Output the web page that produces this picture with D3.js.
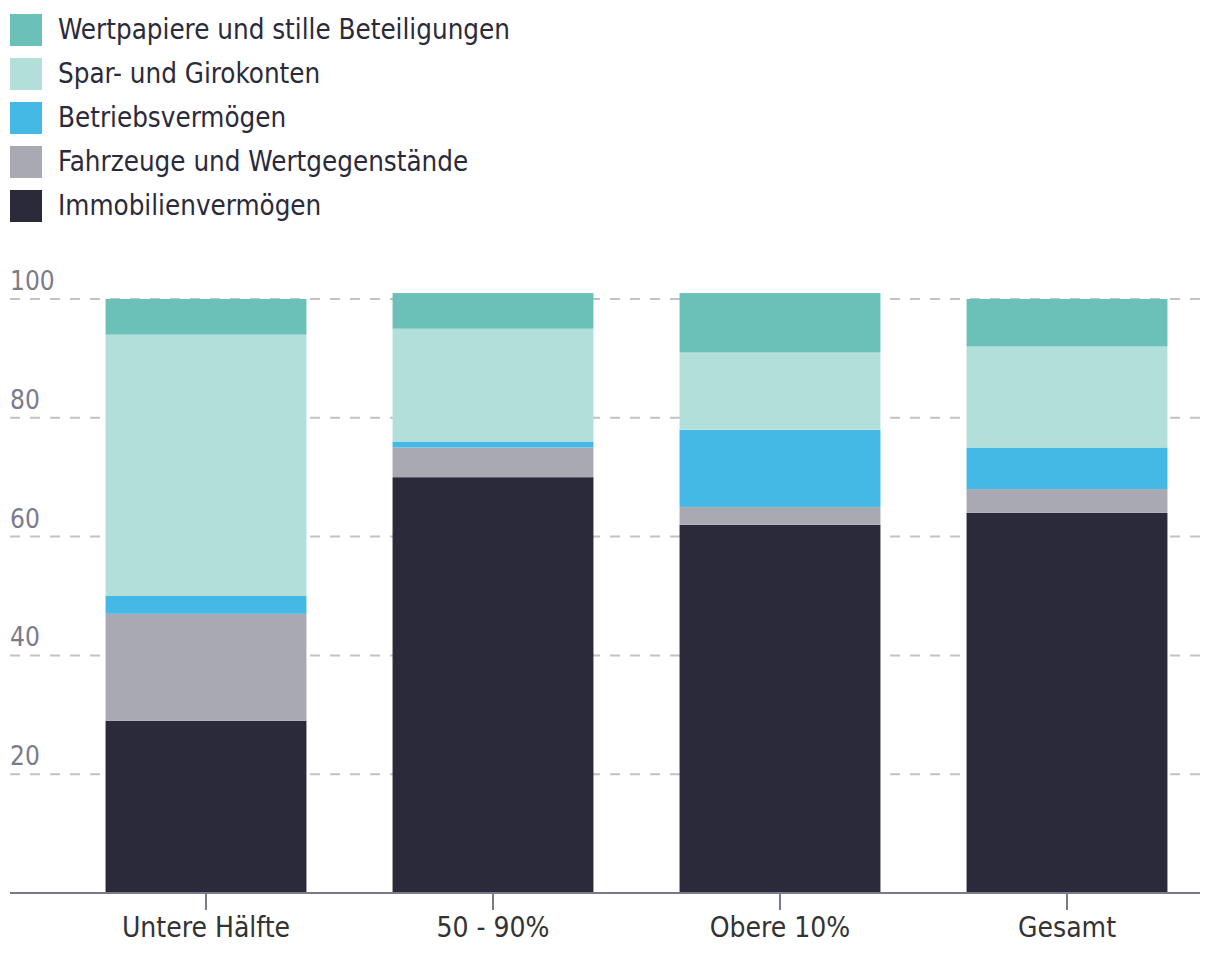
<!DOCTYPE html>
<html>
<head>
<meta charset="utf-8">
<script src="https://cdn.jsdelivr.net/npm/d3@7"></script>
<style>
  html, body { margin: 0; padding: 0; background: #fff; }
  svg text { font-family: "DejaVu Sans Condensed", "Roboto", sans-serif; }
</style>
</head>
<body>
<svg id="chart" width="1220" height="970"></svg>
<script>
// groups on the x axis
const groups = ['Untere Hälfte', '50 - 90%', 'Obere 10%', 'Gesamt'];

// stack order, bottom to top
const seriesNames = [
  'Immobilienvermögen',
  'Fahrzeuge und Wertgegenstände',
  'Betriebsvermögen',
  'Spar- und Girokonten',
  'Wertpapiere und stille Beteiligungen'
];
const seriesColors = ['#2b2a3a', '#a9a9b3', '#44b9e5', '#b3dfda', '#6bc1b7'];

// shares in percent, one value per group
const immobilien  = [29, 70, 62, 64];
const fahrzeuge   = [18, 5, 3, 4];
const betrieb     = [3, 1, 13, 7];
const sparGiro    = [44, 19, 13, 17];
const wertpapiere = [6, 6, 10, 8];

const yTicks = [20, 40, 60, 80, 100];

const svg = d3.select('#chart');

const rows = groups.map((g, i) => ({
  group: g,
  [seriesNames[0]]: immobilien[i],
  [seriesNames[1]]: fahrzeuge[i],
  [seriesNames[2]]: betrieb[i],
  [seriesNames[3]]: sparGiro[i],
  [seriesNames[4]]: wertpapiere[i]
}));
const stacked = d3.stack().keys(seriesNames)(rows);

const x = d3.scaleBand()
  .domain(groups)
  .range([62.5, 1210.5])
  .paddingInner(0.3)
  .paddingOuter(0.15);

const y = d3.scaleLinear().domain([0, 100]).range([893, 299]);

// grid lines + y labels
const grid = svg.append('g').attr('class', 'grid');
grid.selectAll('line')
  .data(yTicks)
  .join('line')
  .attr('x1', 10).attr('x2', 1200)
  .attr('y1', d => y(d)).attr('y2', d => y(d))
  .attr('stroke', '#c2c1c8')
  .attr('stroke-width', 2)
  .attr('stroke-dasharray', '10 10');
grid.selectAll('text')
  .data(yTicks)
  .join('text')
  .attr('x', 10)
  .attr('y', d => y(d) - 9)
  .attr('fill', '#7c7a8a')
  .attr('font-size', 26)
  .text(d => d);

// bars
svg.append('g').attr('class', 'bars')
  .selectAll('g')
  .data(stacked)
  .join('g')
  .attr('fill', (d, i) => seriesColors[i])
  .selectAll('rect')
  .data(d => d)
  .join('rect')
  .attr('x', d => x(d.data.group))
  .attr('width', x.bandwidth())
  .attr('y', d => y(d[1]))
  .attr('height', d => y(d[0]) - y(d[1]));

// x axis
const xAxis = svg.append('g')
  .attr('transform', 'translate(0,893)')
  .call(d3.axisBottom(x).tickSize(17).tickSizeOuter(0).tickPadding(7));
xAxis.select('.domain').remove();
xAxis.insert('line', ':first-child')
  .attr('x1', 10).attr('x2', 1200)
  .attr('stroke', '#7c7a8a').attr('stroke-width', 2);
xAxis.selectAll('.tick line').attr('stroke', '#7c7a8a').attr('stroke-width', 2);
xAxis.selectAll('.tick text')
  .attr('fill', '#333')
  .attr('font-size', 28)
  .style('font-family', '"DejaVu Sans Condensed", sans-serif');

// legend, top to bottom
const legendOrder = seriesNames.map((n, i) => ({ name: n, color: seriesColors[i] })).reverse();
const legend = svg.append('g').attr('class', 'legend')
  .selectAll('g')
  .data(legendOrder)
  .join('g')
  .attr('transform', (d, i) => `translate(10,${14 + i * 44})`);
legend.append('rect')
  .attr('width', 32).attr('height', 32)
  .attr('fill', d => d.color);
legend.append('text')
  .attr('x', 48)
  .attr('y', 25)
  .attr('fill', '#2b2a3a')
  .attr('font-size', 27.5)
  .text(d => d.name);
</script>
</body>
</html>
